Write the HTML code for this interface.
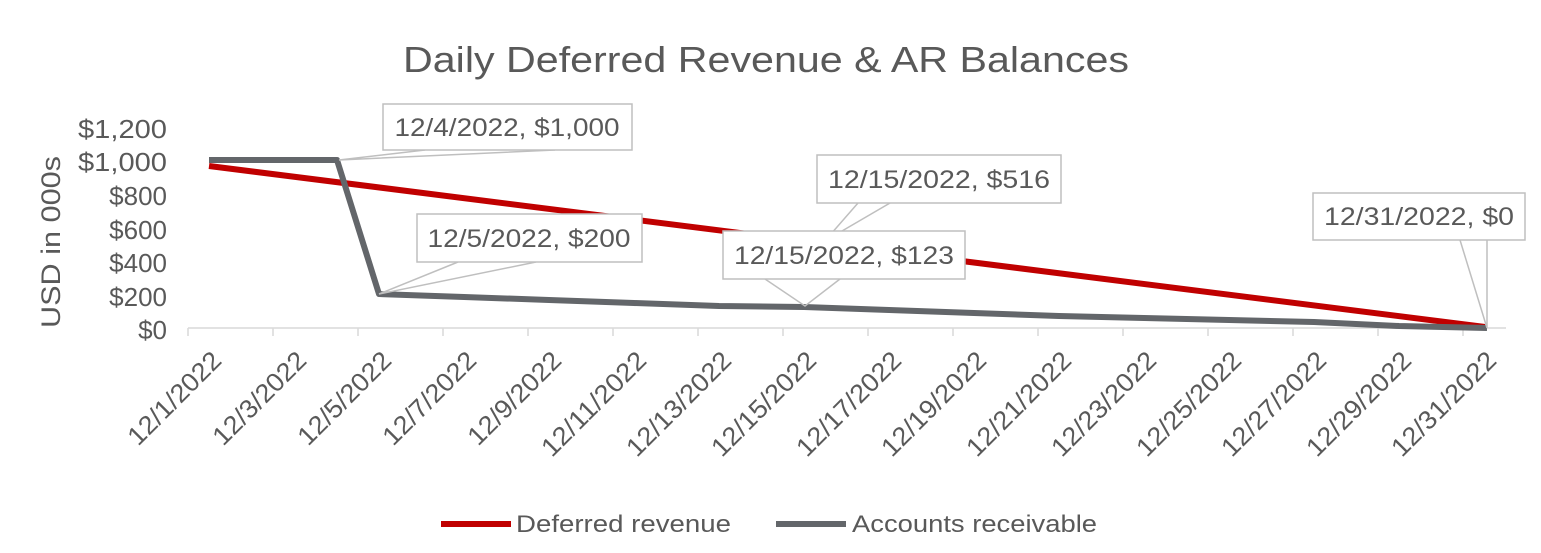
<!DOCTYPE html>
<html><head><meta charset="utf-8"><style>body{margin:0;background:#fff}svg{display:block}text{font-family:"Liberation Sans",sans-serif;fill:#595959}</style></head>
<body>
<svg width="1541" height="553" viewBox="0 0 1541 553">
<text x="766" y="72" font-size="36" text-anchor="middle" textLength="726" lengthAdjust="spacingAndGlyphs">Daily Deferred Revenue &amp; AR Balances</text>
<text transform="translate(60,242) rotate(-90)" font-size="27" text-anchor="middle" textLength="172" lengthAdjust="spacingAndGlyphs">USD in 000s</text>
<g font-size="26" text-anchor="end">
<text x="167" y="138" textLength="89" lengthAdjust="spacingAndGlyphs">$1,200</text><text x="167" y="171" textLength="89" lengthAdjust="spacingAndGlyphs">$1,000</text><text x="167" y="205">$800</text><text x="167" y="239">$600</text><text x="167" y="272">$400</text><text x="167" y="306">$200</text><text x="167" y="339">$0</text>
</g>
<g stroke="#d9d9d9" stroke-width="1.5">
<line x1="188" y1="328" x2="1506" y2="328"/>
<path d="M188 328v8M273 328v8M358 328v8M443 328v8M528 328v8M613 328v8M698 328v8M783 328v8M868 328v8M953 328v8M1038 328v8M1123 328v8M1208 328v8M1293 328v8M1378 328v8M1463 328v8"/>
</g>
<polyline fill="none" stroke="#c00000" stroke-width="6" stroke-linejoin="round" points="209,166 1485,327"/>
<polyline fill="none" stroke="#63666a" stroke-width="6" stroke-linejoin="round" points="209,160 337,160 379,294 464,297 549,300 634,303 719,306 804,307 889,310 974,313 1059,316 1144,318 1229,320 1314,322 1399,326 1487,328"/>
<g stroke="#bfbfbf" stroke-width="1.5" fill="none">
<path d="M425 150 L339 160 L555 150"/>
<path d="M458 262 L379 294 L536 262"/>
<path d="M858 203 L810 258 M890 203 L830 238"/>
<path d="M765 279 L805 306 L840 279"/>
<path d="M1460 240 L1487 328 L1487 240"/>
<rect x="383" y="104" width="249" height="46" fill="#fff"/>
<rect x="417" y="214" width="225" height="48" fill="#fff"/>
<rect x="817" y="155" width="244" height="48" fill="#fff"/>
<rect x="723" y="231" width="242" height="48" fill="#fff"/>
<rect x="1313" y="193" width="212" height="47" fill="#fff"/>
</g>
<g font-size="25" text-anchor="middle">
<text x="507" y="136" textLength="225" lengthAdjust="spacingAndGlyphs">12/4/2022, $1,000</text>
<text x="529" y="247" textLength="203" lengthAdjust="spacingAndGlyphs">12/5/2022, $200</text>
<text x="939" y="188" textLength="222" lengthAdjust="spacingAndGlyphs">12/15/2022, $516</text>
<text x="844" y="264" textLength="220" lengthAdjust="spacingAndGlyphs">12/15/2022, $123</text>
<text x="1419" y="225" textLength="190" lengthAdjust="spacingAndGlyphs">12/31/2022, $0</text>
</g>
<line x1="441" y1="524" x2="511" y2="524" stroke="#c00000" stroke-width="6"/>
<text x="516" y="532" font-size="24" textLength="215" lengthAdjust="spacingAndGlyphs">Deferred revenue</text>
<line x1="776" y1="524" x2="846" y2="524" stroke="#63666a" stroke-width="6"/>
<text x="852" y="532" font-size="24" textLength="245" lengthAdjust="spacingAndGlyphs">Accounts receivable</text>
<g font-size="26" text-anchor="end" lengthAdjust="spacingAndGlyphs">
<text transform="translate(223,362) rotate(-45)" textLength="120" lengthAdjust="spacingAndGlyphs">12/1/2022</text>
<text transform="translate(308,362) rotate(-45)" textLength="120" lengthAdjust="spacingAndGlyphs">12/3/2022</text>
<text transform="translate(393,362) rotate(-45)" textLength="120" lengthAdjust="spacingAndGlyphs">12/5/2022</text>
<text transform="translate(478,362) rotate(-45)" textLength="120" lengthAdjust="spacingAndGlyphs">12/7/2022</text>
<text transform="translate(563,362) rotate(-45)" textLength="120" lengthAdjust="spacingAndGlyphs">12/9/2022</text>
<text transform="translate(648,362) rotate(-45)" textLength="136" lengthAdjust="spacingAndGlyphs">12/11/2022</text>
<text transform="translate(733,362) rotate(-45)" textLength="136" lengthAdjust="spacingAndGlyphs">12/13/2022</text>
<text transform="translate(818,362) rotate(-45)" textLength="136" lengthAdjust="spacingAndGlyphs">12/15/2022</text>
<text transform="translate(903,362) rotate(-45)" textLength="136" lengthAdjust="spacingAndGlyphs">12/17/2022</text>
<text transform="translate(988,362) rotate(-45)" textLength="136" lengthAdjust="spacingAndGlyphs">12/19/2022</text>
<text transform="translate(1073,362) rotate(-45)" textLength="136" lengthAdjust="spacingAndGlyphs">12/21/2022</text>
<text transform="translate(1158,362) rotate(-45)" textLength="136" lengthAdjust="spacingAndGlyphs">12/23/2022</text>
<text transform="translate(1243,362) rotate(-45)" textLength="136" lengthAdjust="spacingAndGlyphs">12/25/2022</text>
<text transform="translate(1328,362) rotate(-45)" textLength="136" lengthAdjust="spacingAndGlyphs">12/27/2022</text>
<text transform="translate(1413,362) rotate(-45)" textLength="136" lengthAdjust="spacingAndGlyphs">12/29/2022</text>
<text transform="translate(1498,362) rotate(-45)" textLength="136" lengthAdjust="spacingAndGlyphs">12/31/2022</text>
</g>
</svg>
</body></html>
